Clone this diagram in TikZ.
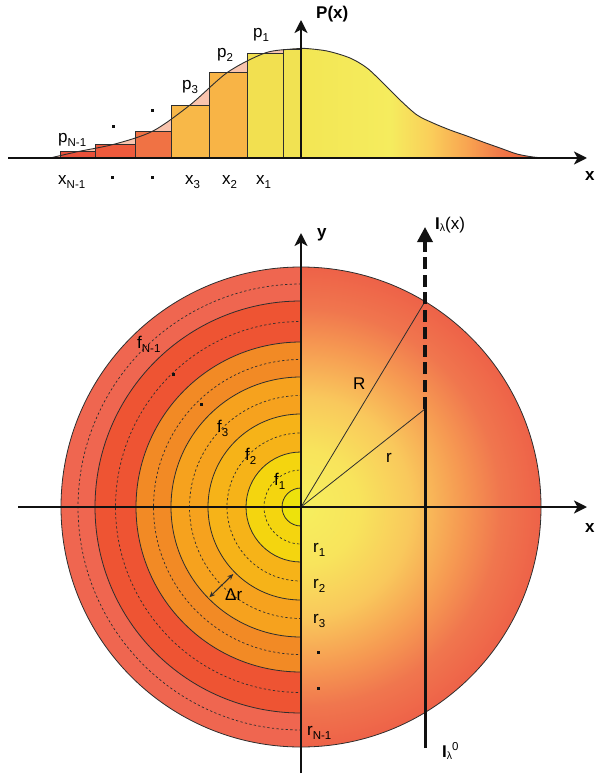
\documentclass[tikz,border=0pt]{standalone}
\usepackage{fontspec}
\setmainfont{Liberation Sans}
\usetikzlibrary{arrows.meta}
\definecolor{axisc}{HTML}{111111}
\definecolor{linec}{HTML}{2E2E2E}
\definecolor{pinkc}{HTML}{F9C4AE}
\definecolor{barA}{HTML}{E9513A}
\definecolor{barB}{HTML}{EE5A3C}
\definecolor{barC}{HTML}{F07244}
\definecolor{barD}{HTML}{F8B848}
\definecolor{barE}{HTML}{F8B446}
\definecolor{barF}{HTML}{F2E050}
\definecolor{barG}{HTML}{F1E252}
\definecolor{gA}{HTML}{F2E552}
\definecolor{gB}{HTML}{F5EC5E}
\definecolor{gC}{HTML}{FACE5A}
\definecolor{gD}{HTML}{F8A050}
\definecolor{gE}{HTML}{F07848}
\definecolor{gF}{HTML}{EA5A3A}
\definecolor{ringA}{HTML}{EF6650}
\definecolor{ringB}{HTML}{EE5433}
\definecolor{ringC}{HTML}{F28A25}
\definecolor{ringD}{HTML}{F6A21E}
\definecolor{ringE}{HTML}{F6B318}
\definecolor{ringF}{HTML}{F4D50F}
\definecolor{ringG}{HTML}{EDE20C}
\definecolor{dA}{HTML}{F6EF5E}
\definecolor{dB}{HTML}{F8E45C}
\definecolor{dC}{HTML}{F9C85C}
\definecolor{dD}{HTML}{F69A52}
\definecolor{dE}{HTML}{F0764E}
\definecolor{dF}{HTML}{EE6248}
\pgfdeclareradialshading{diskshade}{\pgfpoint{0bp}{0bp}}{color(0bp)=(dA); color(6bp)=(dB); color(11.5bp)=(dC); color(16.7bp)=(dD); color(20.8bp)=(dE); color(25bp)=(dF); color(50bp)=(dF)}
\newcommand\lsub[1]{\raisebox{-4pt}{\fontsize{11.5}{12}\selectfont #1}}
\newcommand\lsup[1]{\raisebox{7pt}{\fontsize{11.5}{12}\selectfont #1}}
\newcommand\lam{\raisebox{-2pt}{\fontsize{10.5}{12}\selectfont λ}}
\def\curvepts{(50,158) (77.5,151.7) (115,144) (153,131) (190,105) (228,72) (265,53) (292,49) (303,48.3) (327,51) (350,58) (367,68) (383,83) (400,100) (417,115) (433,123) (450,130) (467,136) (483,142) (500,148) (517,154) (533,157) (545,158)}
\begin{document}
\begin{tikzpicture}[x=1pt,y=-1pt,
  every node/.style={inner sep=0pt},
  lbl/.style={anchor=base west},
  axis/.style={line width=2.4pt, draw=axisc, -{Stealth[length=13pt,width=13pt,inset=3.5pt]}},
  thinl/.style={line width=0.8pt, draw=linec},
  dashl/.style={line width=0.7pt, draw=linec, dash pattern=on 2.3pt off 2.3pt},
  barbox/.style={draw=linec, line width=0.8pt},
  dot/.style={fill=axisc},
  font=\fontsize{17}{20}\selectfont]
\useasboundingbox (0,0) rectangle (595,778);

% ---------- top chart ----------
\coordinate (xl) at (8,158);
\coordinate (xr) at (587,158);
\coordinate (O) at (301,158);
\coordinate (Ptop) at (301,20);

\fill[pinkc] plot[smooth,tension=0.5] coordinates {\curvepts} -- cycle;
\begin{scope}
  \clip plot[smooth,tension=0.5] coordinates {\curvepts} -- cycle;
  \shade[left color=gA, right color=gB] (283,40) rectangle (391,160);
  \shade[left color=gB, right color=gC] (390,40) rectangle (431,160);
  \shade[left color=gC, right color=gD] (430,40) rectangle (471,160);
  \shade[left color=gD, right color=gE] (470,40) rectangle (501,160);
  \shade[left color=gE, right color=gF] (500,40) rectangle (546,160);
\end{scope}

\filldraw[barbox, fill=barA] (60,158) rectangle (95,151.7);
\filldraw[barbox, fill=barB] (95,158) rectangle (135,144);
\filldraw[barbox, fill=barC] (135,158) rectangle (171,131);
\filldraw[barbox, fill=barD] (171,158) rectangle (209,105);
\filldraw[barbox, fill=barE] (209,158) rectangle (247,72);
\filldraw[barbox, fill=barF] (247,158) rectangle (283,53);
\filldraw[barbox, fill=barG] (283,158) rectangle (301,49);

\draw[line width=0.9pt, draw=linec] plot[smooth,tension=0.5] coordinates {\curvepts};

\draw[axis] (xl) -- (xr);
\draw[axis] (O) -- (Ptop);

\node[lbl] (Plab) at (316,19) {\textbf{P(x)}};
\node[lbl] (xlabA) at (585,180) {\textbf{x}};
\node[lbl] (p1) at (253,38) {p\lsub{1}};
\node[lbl] (p2) at (217,58) {p\lsub{2}};
\node[lbl] (p3) at (182,90) {p\lsub{3}};
\node[lbl] (pN) at (58,143) {p\lsub{N-1}};
\fill[dot] (111.5,125.5) rectangle ++(3,3);
\fill[dot] (150.5,109.5) rectangle ++(3,3);
\node[lbl] (xN) at (58,185) {x\lsub{N-1}};
\fill[dot] (110.5,175.5) rectangle ++(3,3);
\fill[dot] (150.5,175.5) rectangle ++(3,3);
\node[lbl] (x3) at (185,185) {x\lsub{3}};
\node[lbl] (x2) at (222,185) {x\lsub{2}};
\node[lbl] (x1) at (256,185) {x\lsub{1}};

% ---------- disc ----------
\coordinate (C) at (301,507);
\coordinate (Xl) at (18,507);
\coordinate (Xr) at (587,507);
\coordinate (Yb) at (301,773);
\coordinate (Yt) at (301,233);
\coordinate (Rp) at (425,301.5);
\coordinate (rp) at (425,409);
\coordinate (Vb) at (425,748);
\coordinate (Vt) at (425,227);
\coordinate (dr1) at (209.3,597.3);
\coordinate (dr2) at (233.3,574);

% right half: radial shading
\begin{scope}
  \clip (301,250) rectangle (560,760);
  \shade[shading=diskshade] (C) circle[radius=240];
\end{scope}
% left half: rings
\begin{scope}
  \clip (50,250) rectangle (301,760);
  \fill[ringA] (C) circle[radius=240];
  \fill[ringB] (C) circle[radius=206];
  \fill[ringC] (C) circle[radius=165];
  \fill[ringD] (C) circle[radius=130];
  \fill[ringE] (C) circle[radius=93];
  \fill[ringF] (C) circle[radius=55];
  \fill[ringG] (C) circle[radius=19];
  \foreach \r in {19,55,93,130,165,206}
    \draw[thinl] (C) circle[radius=\r];
  \foreach \r in {37,74,111.5,147.5,185.5,223}
    \draw[dashl] (C) circle[radius=\r];
\end{scope}
\draw[thinl] (C) circle[radius=240];

\draw[thinl] (C) -- (Rp);
\draw[thinl] (C) -- (rp);
\draw[line width=3pt, draw=axisc] (Vb) -- (rp);
\draw[line width=3.4pt, draw=axisc, dash pattern=on 12pt off 5.5pt, -{Triangle[length=15pt,width=15pt]}] (rp) -- (Vt);

\draw[line width=1pt, draw=linec, {Stealth[length=6pt,width=5pt]}-{Stealth[length=6pt,width=5pt]}] (dr1) -- (dr2);

\draw[axis] (Xl) -- (Xr);
\draw[axis] (Yb) -- (Yt);

\node[lbl] (ylab) at (317,237) {\textbf{y}};
\node[lbl] (xlabB) at (585,532) {\textbf{x}};
\node[lbl] (Ilab) at (435,229) {\textbf{I}\lam(x)};
\node[lbl] (I0lab) at (442,757) {\textbf{I}\lam\lsup{0}};
\node[lbl] (Rlab) at (353,389) {R};
\node[lbl] (rlab) at (386,462) {r};
\node[lbl] (r1) at (313,552) {r\lsub{1}};
\node[lbl] (r2) at (313,588) {r\lsub{2}};
\node[lbl] (r3) at (313,623) {r\lsub{3}};
\fill[dot] (316.5,650.5) rectangle ++(3,3);
\fill[dot] (316.5,686.5) rectangle ++(3,3);
\node[lbl] (rN) at (307,735) {r\lsub{N-1}};
\node[lbl] (fN) at (137,348) {f\lsub{N-1}};
\fill[dot] (171.5,372.5) rectangle ++(3,3);
\fill[dot] (199.5,402.5) rectangle ++(3,3);
\node[lbl] (f3) at (217,432) {f\lsub{3}};
\node[lbl] (f2) at (245,460) {f\lsub{2}};
\node[lbl] (f1) at (274,485) {f\lsub{1}};
\node[lbl] (drlab) at (225,600) {Δr};
\end{tikzpicture}
\end{document}
